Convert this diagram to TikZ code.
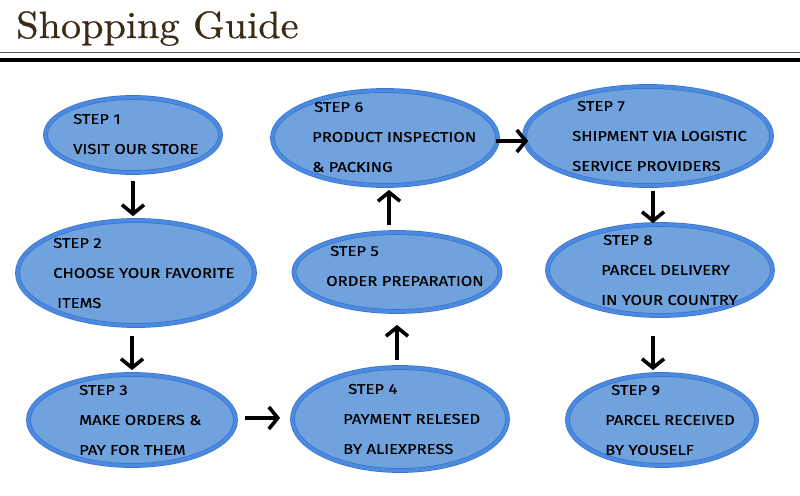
\documentclass[tikz,border=0pt]{standalone}
\usepackage{fontspec}
\newfontfamily\stepfont[FakeStretch=1.17,FakeBold=0.6]{Fira Sans}
\newfontfamily\titlefont[FakeBold=0.5]{lmroman10-regular.otf}
\usetikzlibrary{shapes.geometric}
\usetikzlibrary{arrows.meta}
\usepackage{xcolor}

\definecolor{titlebrown}{HTML}{3B2A14}
\definecolor{ovalfill}{HTML}{70A2DD}
\definecolor{ovalring}{HTML}{4A8AE2}
\definecolor{ovaledge}{HTML}{3C72C4}

\tikzset{
  stepoval/.style={ellipse,draw=ovaledge,line width=0.7pt,double=ovalring,
    double distance=3.4pt,fill=ovalfill,inner sep=0pt},
  steptext/.style={anchor=west,align=left,inner sep=0pt,
    font=\stepfont\fontsize{14.2}{30}\selectfont},
  steparrow/.style={line width=3.6pt,
    -{Straight Barb[length=9pt,width=22pt,line width=3.6pt]}}
}

\begin{document}
\begin{tikzpicture}[x=1pt,y=-1pt]
\useasboundingbox (0,0) rectangle (800,495);
% heading
\node[anchor=base west,text=titlebrown,inner sep=0pt,
  font=\titlefont\fontsize{38}{42}\selectfont] (title) at (16,38) {\scalebox{1.06}[1]{Shopping Guide}};
\draw[gray!70!black,line width=1pt] (0,53) -- (800,53);
\draw[line width=4.5pt] (0,60) -- (800,60);
% the nine steps
\node[stepoval,minimum width=175pt,minimum height=75pt] (s1) at (133,135) {};
\node[stepoval,minimum width=237pt,minimum height=105pt] (s2) at (136,273) {};
\node[stepoval,minimum width=207pt,minimum height=91pt] (s3) at (132,420) {};
\node[stepoval,minimum width=215pt,minimum height=103pt] (s4) at (400,419) {};
\node[stepoval,minimum width=206pt,minimum height=79pt] (s5) at (397,272) {};
\node[stepoval,minimum width=225pt,minimum height=95pt] (s6) at (385,138) {};
\node[stepoval,minimum width=247pt,minimum height=99pt] (s7) at (648,136) {};
\node[stepoval,minimum width=225pt,minimum height=91pt] (s8) at (660,270) {};
\node[stepoval,minimum width=189pt,minimum height=91pt] (s9) at (662,420) {};
\node[steptext] (t1) at (73,134) {STEP 1\\VISIT OUR STORE};
\node[steptext] (t2) at (53,273) {STEP 2\\CHOOSE YOUR FAVORITE\\\hspace*{4pt}ITEMS};
\node[steptext] (t3) at (79,420) {STEP 3\\MAKE ORDERS \&\\PAY FOR THEM};
\node[steptext] (t4) at (343,419) {\hspace*{5pt}STEP 4\\PAYMENT RELESED\\BY ALIEXPRESS};
\node[steptext] (t5) at (326,266) {\hspace*{4pt}STEP 5\\ORDER PREPARATION};
\node[steptext] (t6) at (312,137) {\hspace*{2pt}STEP 6\\PRODUCT INSPECTION\\\& PACKING};
\node[steptext] (t7) at (572,136) {\hspace*{5pt}STEP 7\\SHIPMENT VIA LOGISTIC\\SERVICE PROVIDERS};
\node[steptext] (t8) at (601,270) {\hspace*{2pt}STEP 8\\PARCEL DELIVERY\\IN YOUR COUNTRY};
\node[steptext] (t9) at (605,420) {\hspace*{6pt}STEP 9\\PARCEL RECEIVED\\BY YOUSELF};
% arrows between steps
\draw[steparrow] ([yshift=-8pt]s1.south) -- ([yshift=4pt]s1.south |- s2.north);
\draw[steparrow] ([yshift=-10pt]s3.north |- s2.south) -- ([yshift=4pt]s3.north);
\draw[steparrow] ([xshift=9pt,yshift=2pt]s3.east) -- ([xshift=-12pt,yshift=2pt]s3.east -| s4.west);
\draw[steparrow] ([yshift=7pt]s5.south |- s4.north) -- ([yshift=-13pt]s5.south);
\draw[steparrow] ([xshift=4pt,yshift=7pt]s6.south |- s5.north) -- ([xshift=4pt,yshift=-4pt]s6.south);
\draw[steparrow] ([xshift=-2pt,yshift=-3pt]s6.east) -- ([xshift=4pt,yshift=-3pt]s6.east -| s7.west);
\draw[steparrow] ([xshift=5pt,yshift=-5pt]s7.south) -- ([xshift=5pt,yshift=1pt]s7.south |- s8.north);
\draw[steparrow] ([xshift=-7pt,yshift=-20pt]s8.south) -- ([xshift=-7pt,yshift=4pt]s8.south |- s9.north);
\end{tikzpicture}
\end{document}
